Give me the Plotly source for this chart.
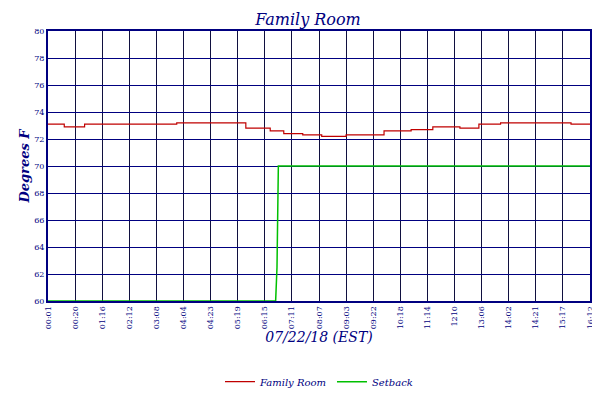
import plotly.graph_objects as go

tick_labels = ['00:01', '00:20', '01:16', '02:12', '03:08', '04:04', '04:23', '05:19', '06:15', '07:11',
               '08:07', '09:03', '09:22', '10:18', '11:14', '1210', '13:06', '14:02', '14:21', '15:17', '16:12']

# x in tick-interval units
room_x = [0, 0.55, 0.6, 1.3, 1.35, 4.7, 4.75, 7.25, 7.3, 8.1, 8.2, 8.6, 8.7, 9.3, 9.4, 10.0, 10.1,
          10.9, 11.0, 12.3, 12.4, 13.3, 13.4, 14.1, 14.2, 15.1, 15.2, 15.8, 15.9, 16.6, 16.7, 19.2, 19.3, 20]
room_y = [73.1, 73.1, 72.9, 72.9, 73.1, 73.1, 73.2, 73.2, 72.8, 72.8, 72.6, 72.6, 72.4, 72.4, 72.3, 72.3, 72.2,
          72.2, 72.3, 72.3, 72.6, 72.6, 72.7, 72.7, 72.9, 72.9, 72.8, 72.8, 73.1, 73.1, 73.2, 73.2, 73.1, 73.1]

setback_x = [0, 8.4, 8.45, 8.5, 20]
setback_y = [60, 60, 62.5, 70, 70]

navy = '#000080'
font = 'DejaVu Serif'

fig = go.Figure()
fig.add_trace(go.Scatter(x=room_x, y=room_y, mode='lines', name='<i>Family Room</i>',
                         line=dict(color='#c00000', width=1.2, shape='hv')))
fig.add_trace(go.Scatter(x=setback_x, y=setback_y, mode='lines', name='<i>Setback</i>',
                         line=dict(color='#00c000', width=1.5)))
fig.add_trace(go.Scatter(x=[0], y=[60], yaxis='y2', showlegend=False, mode='none', hoverinfo='skip'))

axis_common = dict(range=[60, 80], dtick=2, gridcolor=navy, gridwidth=1, automargin=False,
                   tickfont=dict(family=font, size=8, color=navy), ticks='', zeroline=False,
                   showline=True, linecolor=navy, linewidth=2)

fig.update_layout(
    width=600, height=400, paper_bgcolor='white', plot_bgcolor='white',
    margin=dict(l=40, r=18, t=23, b=78),
    title=dict(text='<i>Family Room</i>', x=0.5, y=0.985, xanchor='center', yanchor='top',
               font=dict(family=font, size=16, color=navy)),
    xaxis=dict(range=[0, 20], tickvals=list(range(21)), ticktext=tick_labels, tickangle=-90,
               showgrid=True, gridcolor='#101040', gridwidth=1, zeroline=False, ticks='', automargin=False,
               tickfont=dict(family=font, size=8, color=navy), showline=True, linecolor=navy,
               linewidth=2, mirror=True,
               title=dict(text='<i>07/22/18 (EST)</i>', font=dict(family=font, size=14, color=navy), standoff=4)),
    yaxis=dict(title=dict(text='<b><i>Degrees F</i></b>', font=dict(family=font, size=13, color=navy), standoff=2),
               showgrid=True, **axis_common),
    yaxis2=dict(overlaying='y', side='right', showgrid=False, **axis_common),
    legend=dict(orientation='h', x=0.5, xanchor='center', y=-0.245, yanchor='top', itemwidth=30,
                tracegroupgap=0, font=dict(family=font, size=10, color=navy)),
    showlegend=True,
)

fig.write_html("out.html")
